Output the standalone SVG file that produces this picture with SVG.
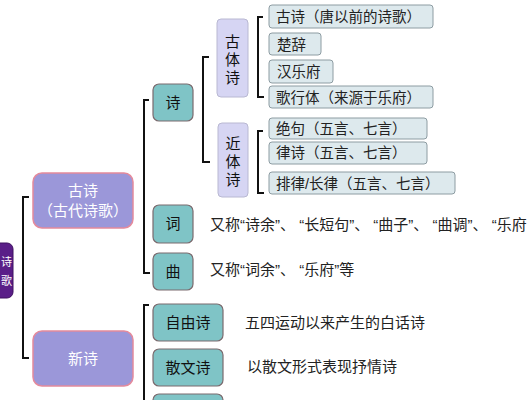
<svg xmlns="http://www.w3.org/2000/svg" width="527" height="400" viewBox="0 0 527 400">
<style>
text{font-family:"Liberation Sans","Noto Sans CJK SC",sans-serif;}
.br{fill:none;stroke:#111;stroke-width:2}
.root{fill:#5a1e88;stroke:#3e1060;stroke-width:1}
.mid{fill:#9b97d9;stroke:#e48a9c;stroke-width:1.5}
.teal{fill:#7fc4c6;stroke:#7a6a6e;stroke-width:1.2}
.sub{fill:#d6d5f3;stroke:#b9b8d2;stroke-width:1}
.leaf{fill:#dde9ed;stroke:#8d9ca2;stroke-width:1}
.wt{fill:#fff;font-size:15px;text-anchor:middle}
.bt{fill:#111;font-size:15px;text-anchor:middle}
.lt{fill:#222;font-size:15px}
.pt{fill:#222;font-size:14.5px}
</style>
<rect width="527" height="400" fill="#fff"/>
<g id="connectors">
<path class="br" d="M29,197 H23 V358 H29"/>
<path class="br" d="M149,100 H144 V273 H150"/>
<path class="br" d="M149,305 H144 V400"/>
<path class="br" d="M209,57 H203 V162 H210"/>
<path class="br" d="M263,17 H258 V97 H264"/>
<path class="br" d="M263,131 H258 V193 H264"/>
</g>
<g id="root">
<rect class="root" x="-40" y="243" width="53" height="55" rx="6"/>
<text class="wt" x="6.5" y="266" style="font-size:11px">诗</text>
<text class="wt" x="6.5" y="285" style="font-size:11px">歌</text>
</g>
<g id="gushi">
<rect class="mid" x="33" y="173" width="100" height="55" rx="9"/>
<text class="wt" x="83" y="196">古诗</text>
<text class="wt" x="83" y="216">（古代诗歌）</text>
</g>
<g id="xinshi">
<rect class="mid" x="33" y="331" width="100" height="55" rx="9"/>
<text class="wt" x="83" y="364">新诗</text>
</g>
<g id="shi">
<rect class="teal" x="153" y="84" width="40" height="37" rx="6"/>
<text class="bt" x="173" y="108">诗</text>
</g>
<g id="ci">
<rect class="teal" x="153" y="205" width="40" height="38" rx="6"/>
<text class="bt" x="173" y="229">词</text>
</g>
<g id="qu">
<rect class="teal" x="153" y="253" width="40" height="37" rx="6"/>
<text class="bt" x="173" y="277">曲</text>
</g>
<g id="ziyoushi">
<rect class="teal" x="153" y="304" width="70" height="37" rx="6"/>
<text class="bt" x="188" y="328">自由诗</text>
</g>
<g id="sanwenshi">
<rect class="teal" x="153" y="349" width="70" height="37" rx="6"/>
<text class="bt" x="188" y="373">散文诗</text>
</g>
<g id="third">
<rect class="teal" x="153" y="394" width="70" height="37" rx="6"/>
</g>
<g id="gutishi">
<rect class="sub" x="217" y="19" width="31" height="78" rx="4"/>
<text class="bt" x="232.5" y="47">古</text>
<text class="bt" x="232.5" y="65">体</text>
<text class="bt" x="232.5" y="83">诗</text>
</g>
<g id="jintishi">
<rect class="sub" x="218" y="123" width="30" height="74" rx="4"/>
<text class="bt" x="233" y="149">近</text>
<text class="bt" x="233" y="167">体</text>
<text class="bt" x="233" y="185">诗</text>
</g>
<g id="leaf1"><rect class="leaf" x="269" y="5" width="164" height="23" rx="3"/><text class="pt" x="276" y="22">古诗（唐以前的诗歌）</text></g>
<g id="leaf2"><rect class="leaf" x="269" y="33" width="52" height="22" rx="3"/><text class="pt" x="277" y="50">楚辞</text></g>
<g id="leaf3"><rect class="leaf" x="269" y="60" width="64" height="23" rx="3"/><text class="pt" x="277" y="77">汉乐府</text></g>
<g id="leaf4"><rect class="leaf" x="269" y="86" width="164" height="22" rx="3"/><text class="pt" x="276" y="103">歌行体（来源于乐府）</text></g>
<g id="leaf5"><rect class="leaf" x="269" y="118" width="158" height="21" rx="3"/><text class="pt" x="276" y="134">绝句（五言、七言）</text></g>
<g id="leaf6"><rect class="leaf" x="269" y="142" width="158" height="22" rx="3"/><text class="pt" x="276" y="158">律诗（五言、七言）</text></g>
<g id="leaf7"><rect class="leaf" x="269" y="172" width="186" height="22" rx="3"/><text class="pt" x="276" y="189">排律/长律（五言、七言）</text></g>
<g id="desc">
<text class="lt" x="210" y="230">又称“诗余”、 “长短句”、 “曲子”、 “曲调”、 “乐府</text>
<text class="lt" x="210" y="275">又称“词余”、 “乐府”等</text>
<text class="lt" x="245" y="328">五四运动以来产生的白话诗</text>
<text class="lt" x="247" y="372">以散文形式表现抒情诗</text>
</g>
</svg>
